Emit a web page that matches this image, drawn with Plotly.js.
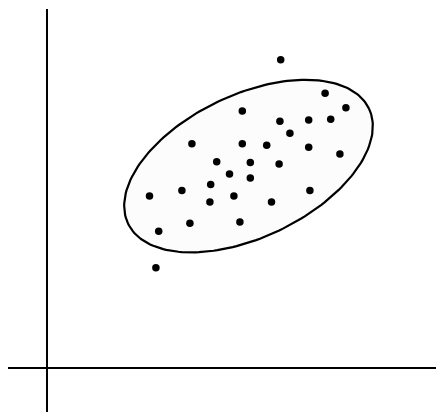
<!DOCTYPE html>
<html>
<head>
<meta charset="utf-8">
<script src="https://cdn.plot.ly/plotly-3.0.1.min.js"></script>
<style>html,body{margin:0;padding:0;background:#fff;}#chart{width:436px;height:412px;}</style>
</head>
<body>
<div id="chart"></div>
<script>
// Scatter points (data units)
var xValues = [5.85, 6.96, 7.48, 4.89, 5.83, 6.55, 7.10, 6.08, 3.63, 4.89, 5.50, 6.55, 7.33, 4.25, 5.09, 5.81, 4.57, 5.09, 4.10, 3.38, 2.57, 4.68, 4.08, 5.62, 6.58, 3.58, 4.83, 2.80, 2.73];
var yValues = [7.70, 6.86, 6.50, 6.42, 6.16, 6.19, 6.21, 5.86, 5.60, 5.60, 5.56, 5.51, 5.34, 5.15, 5.13, 5.09, 4.84, 4.74, 4.58, 4.43, 4.29, 4.29, 4.14, 4.14, 4.43, 3.61, 3.64, 3.41, 2.50];

// Ellipse parameters (data units)
var ellipseCenter = [5.045, 5.04];
var ellipseSemiMajor = 3.337;
var ellipseSemiMinor = 1.783;
var ellipseAngleDeg = 25.5;

var ex = [], ey = [];
var th = ellipseAngleDeg * Math.PI / 180;
for (var i = 0; i <= 200; i++) {
  var t = 2 * Math.PI * i / 200;
  var u = ellipseSemiMajor * Math.cos(t), v = ellipseSemiMinor * Math.sin(t);
  ex.push(ellipseCenter[0] + u * Math.cos(th) - v * Math.sin(th));
  ey.push(ellipseCenter[1] + u * Math.sin(th) + v * Math.cos(th));
}

var traces = [
  {x: ex, y: ey, mode: 'lines', fill: 'toself', fillcolor: 'rgb(252,252,252)',
   line: {color: '#000', width: 2.2}, hoverinfo: 'skip', showlegend: false},
  {x: xValues, y: yValues, mode: 'markers', marker: {color: '#000', size: 7.5},
   showlegend: false}
];

var axisCommon = {showgrid: false, zeroline: true, zerolinecolor: '#000', zerolinewidth: 2.2,
  showticklabels: false, ticks: '', showline: false, fixedrange: true};

var layout = {
  width: 436, height: 412,
  margin: {l: 8, r: 0, t: 9, b: 0, pad: 0},
  paper_bgcolor: '#fff', plot_bgcolor: '#fff',
  xaxis: Object.assign({range: [-0.9675, 9.7325]}, axisCommon),
  yaxis: Object.assign({range: [-1.1075, 8.9675]}, axisCommon),
  showlegend: false
};

Plotly.newPlot('chart', traces, layout, {displayModeBar: false, staticPlot: true});
</script>
</body>
</html>
